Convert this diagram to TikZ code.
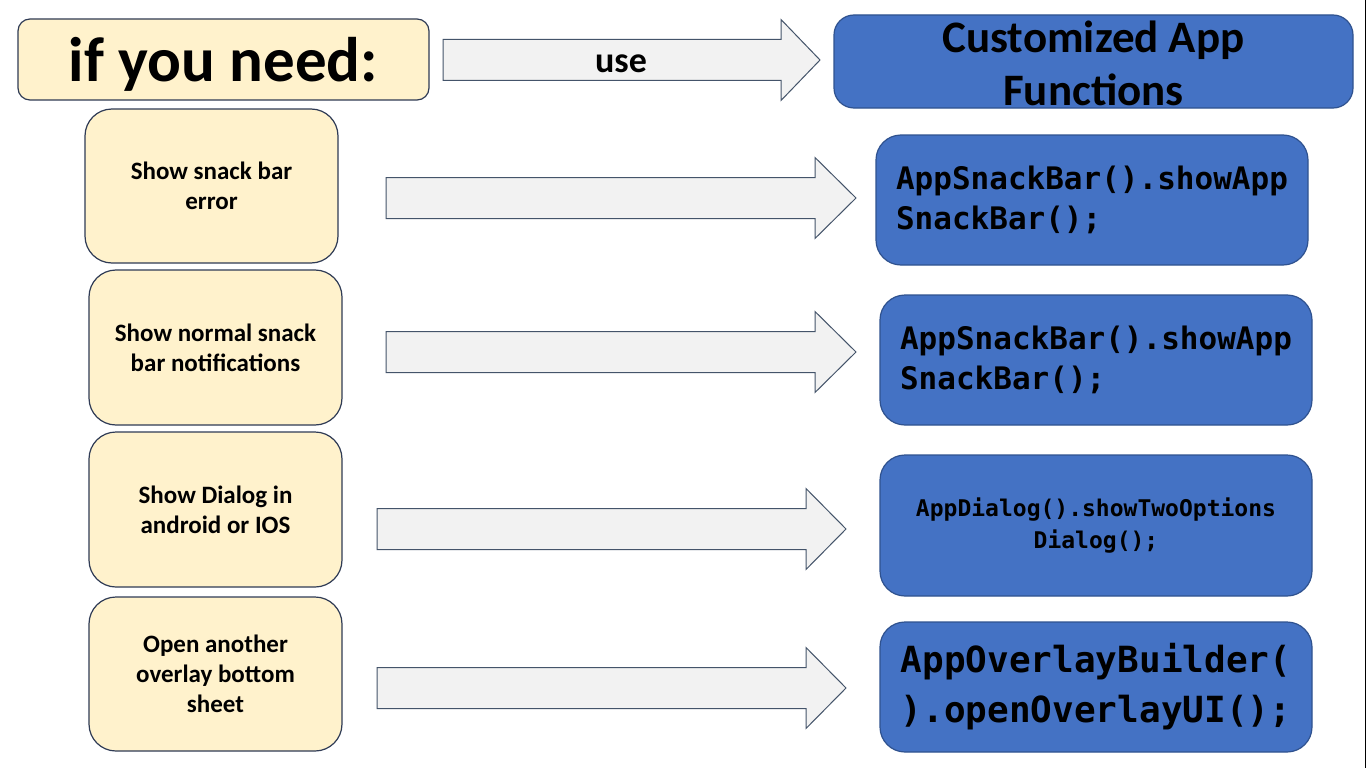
\documentclass[tikz,border=0pt]{standalone}
\usepackage{fontspec}
\setmainfont{Carlito}
\newfontfamily\codefont{DejaVu Sans Mono}
\definecolor{needfill}{HTML}{FFF2CC}
\definecolor{needline}{HTML}{2F3B55}
\definecolor{funcfill}{HTML}{4472C4}
\definecolor{funcline}{HTML}{2F528F}
\definecolor{arrowfill}{HTML}{F2F2F2}
\definecolor{arrowline}{HTML}{44546A}

\begin{document}
\begin{tikzpicture}[x=1pt, y=-1pt,
  needbox/.style={draw=needline, fill=needfill, line width=1.2pt, rounded corners=27pt,
    align=center, inner sep=0pt, minimum width=253pt, minimum height=154pt,
    font=\bfseries\fontsize{25}{30}\selectfont},
  codebox/.style={draw=funcline, fill=funcfill, line width=1.2pt, rounded corners=25pt,
    align=left, inner sep=0pt, minimum width=432pt, minimum height=130pt},
  blockarrow/.style={draw=arrowline, fill=arrowfill, line width=1pt}]

\fill[white] (0,0) rectangle (1366,768);
\useasboundingbox (0,0) rectangle (1366,768);

% block arrows: left end / head start / tip / middle
\foreach \xl/\xh/\xt/\yc in {443/781/820/60, 386/815/856/198, 386/815/856/352,
    377/806/846/529, 377/806/846/688}
  \draw[blockarrow] (\xl,\yc-20.5) -- (\xh,\yc-20.5) -- (\xh,\yc-40.5) -- (\xt,\yc)
    -- (\xh,\yc+40.5) -- (\xh,\yc+20.5) -- (\xl,\yc+20.5) -- cycle;

% header row
\node[needbox, rounded corners=12pt, minimum width=411pt, minimum height=81pt, text depth=0pt,
  font=\bfseries\fontsize{63}{74}\selectfont] (need) at (223.5,59.5) {if you need:};
\node[font=\bfseries\fontsize{36}{43}\selectfont] (use) at (621,64) {use};
\node[codebox, rounded corners=20pt, minimum width=519pt, minimum height=93pt] (func) at (1093.5,61.5) {};
\node[align=center, inner sep=0pt, font=\bfseries\fontsize{45}{53}\selectfont] (functext) at (1093.5,63) {Customized App\\Functions};

% what you need
\node[needbox] (ask1) at (211.5,186) {Show snack bar\\error};
\node[needbox, minimum height=155pt] (ask2) at (215.5,347.5) {Show normal snack\\bar notifications};
\node[needbox, minimum height=155pt] (ask3) at (215.5,509.5) {Show Dialog in\\android or IOS};
\node[needbox] (ask4) at (215.5,674) {Open another\\overlay bottom\\sheet};

% what to use
\node[codebox, font=\codefont\bfseries\fontsize{31}{40}\selectfont] (code1) at (1092,200) {AppSnackBar().showApp\\SnackBar();};
\node[codebox, font=\codefont\bfseries\fontsize{31}{40}\selectfont] (code2) at (1096,360) {AppSnackBar().showApp\\SnackBar();};
\node[codebox, align=center, minimum height=141pt, font=\codefont\bfseries\fontsize{23}{32}\selectfont] (code3) at (1096,525.5) {AppDialog().showTwoOptions\\Dialog();};
\node[codebox, font=\codefont\bfseries\fontsize{36}{50}\selectfont] (code4) at (1096,687) {AppOverlayBuilder(\\).openOverlayUI();};

\draw[black, line width=0.8pt] (1365.4,0) -- (1365.4,768);

\end{tikzpicture}
\end{document}
